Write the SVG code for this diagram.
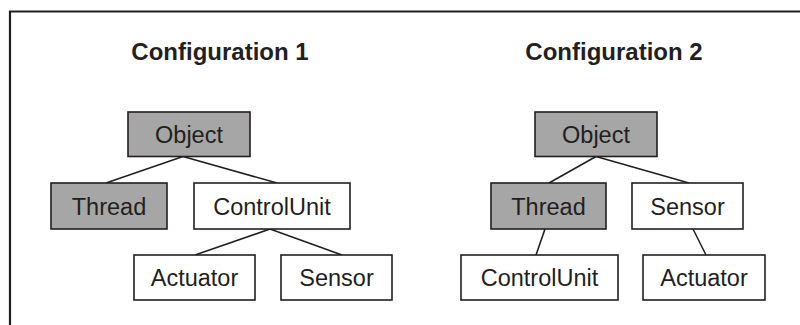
<svg xmlns="http://www.w3.org/2000/svg" width="800" height="325" viewBox="0 0 800 325">
<style>
.bg{fill:#ffffff}
.frame{fill:none;stroke:#231f20;stroke-width:2.2}
.box{stroke:#231f20;stroke-width:1.6}
.gray{fill:#a6a6a6}
.white{fill:#ffffff}
.lbl{font-family:"Liberation Sans",Arial,sans-serif;font-size:23.5px;fill:#231f20;text-anchor:middle}
.title{font-family:"Liberation Sans",Arial,sans-serif;font-size:24px;font-weight:bold;fill:#231f20;text-anchor:middle}
.conn line{stroke:#231f20;stroke-width:1.6}
</style>
<rect class="bg" x="0" y="0" width="800" height="325"/>
<path class="frame" d="M10,326 V11.5 H801"/>
<text class="title" x="220" y="59.5">Configuration 1</text>
<text class="title" x="614" y="59.5">Configuration 2</text>
<g id="connectors" class="conn">
<line x1="183" y1="156.5" x2="106" y2="183"/>
<line x1="183" y1="156.5" x2="277" y2="183"/>
<line x1="270" y1="229" x2="195" y2="255"/>
<line x1="270" y1="229" x2="342" y2="255"/>
<line x1="596" y1="156.5" x2="549" y2="183"/>
<line x1="596" y1="156.5" x2="689" y2="183"/>
<line x1="545" y1="229" x2="536" y2="255"/>
<line x1="693" y1="229" x2="706" y2="255"/>
</g>
<g id="c1-object"><rect class="box gray" x="128" y="112" width="122" height="44.5"/><text class="lbl" x="189" y="142.5">Object</text></g>
<g id="c1-thread"><rect class="box gray" x="51" y="183" width="116" height="46"/><text class="lbl" x="109" y="214.5">Thread</text></g>
<g id="c1-controlunit"><rect class="box white" x="194" y="183" width="156" height="46"/><text class="lbl" x="272" y="214.5">ControlUnit</text></g>
<g id="c1-actuator"><rect class="box white" x="134" y="255" width="121" height="45"/><text class="lbl" x="194.5" y="286">Actuator</text></g>
<g id="c1-sensor"><rect class="box white" x="281" y="255" width="111" height="45"/><text class="lbl" x="336.5" y="286">Sensor</text></g>
<g id="c2-object"><rect class="box gray" x="535" y="112" width="122" height="44.5"/><text class="lbl" x="596" y="142.5">Object</text></g>
<g id="c2-thread"><rect class="box gray" x="491" y="183" width="115" height="46"/><text class="lbl" x="548.5" y="214.5">Thread</text></g>
<g id="c2-sensor"><rect class="box white" x="632" y="183" width="111" height="46"/><text class="lbl" x="687.5" y="214.5">Sensor</text></g>
<g id="c2-controlunit"><rect class="box white" x="461" y="255" width="157" height="45"/><text class="lbl" x="539.5" y="286">ControlUnit</text></g>
<g id="c2-actuator"><rect class="box white" x="643" y="255" width="122" height="45"/><text class="lbl" x="704" y="286">Actuator</text></g>
</svg>
